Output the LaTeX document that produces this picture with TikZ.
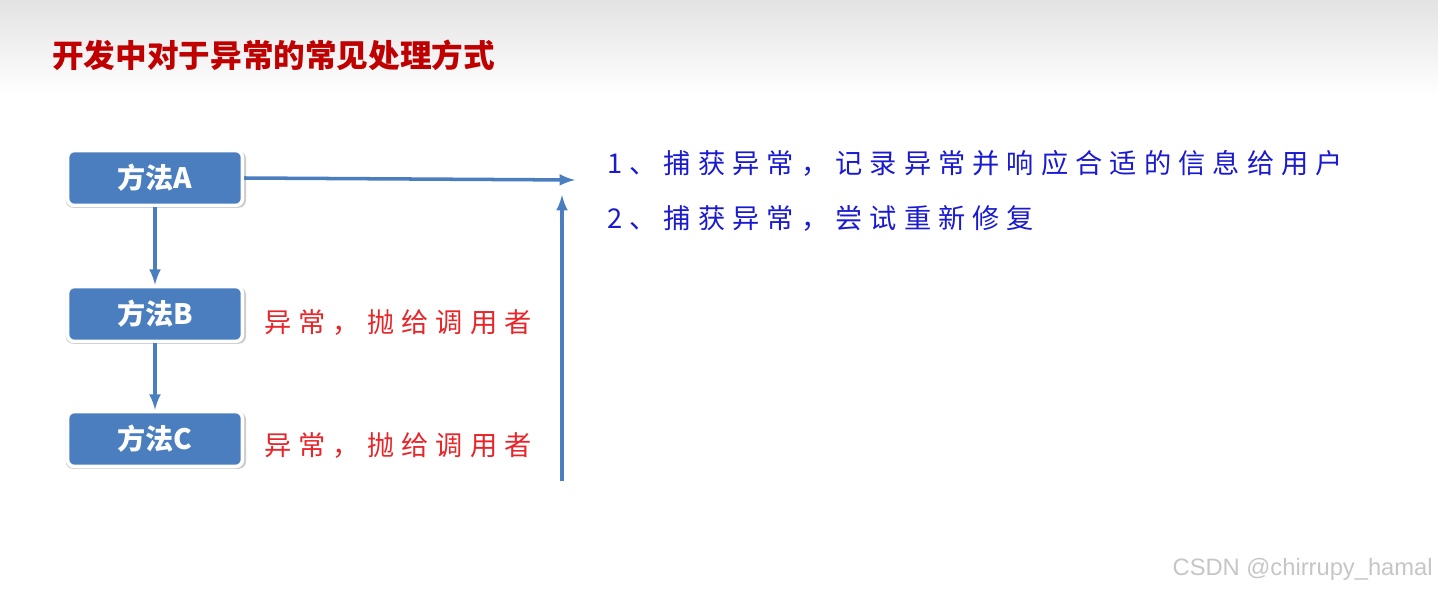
\documentclass[tikz,border=0pt]{standalone}
\usepackage{fontspec}
\usepackage{tikz}
\usetikzlibrary{arrows,shadows,positioning}
\newfontfamily\cjk{Noto Sans CJK SC}
\newfontfamily\cjkhand[LetterSpace=26]{Noto Sans CJK SC}
\setsansfont{Liberation Sans}
\definecolor{boxblue}{HTML}{4A7EBF}
\definecolor{titlered}{HTML}{C00000}
\definecolor{notered}{HTML}{E8262A}
\definecolor{noteblue}{HTML}{1A1AD0}
\tikzstyle{method}=[rounded corners=4pt,minimum width=3.5cm,minimum height=1.1cm,draw=white,line width=2pt,fill=boxblue,text=white,font=\cjk\bfseries\fontsize{16}{18}\selectfont,drop shadow={opacity=.4,shadow xshift=.5pt,shadow yshift=-.8pt,shadow scale=1.03}]
\tikzstyle{note}=[anchor=west,inner sep=0pt,font=\cjkhand\fontsize{15.5}{18}\selectfont]
\tikzstyle{line}=[line width=2pt,draw=boxblue]
\tikzstyle{arrow}=[->,line]
\tikzset{>=latex}

\begin{document}
\begin{tikzpicture}[x=0.02cm,y=-0.02cm]

    \useasboundingbox (0,0) rectangle (1438,594);
    \fill[white] (0,0) rectangle (1438,594);
    \shade[top color=gray!22,bottom color=white] (0,0) rectangle (1438,95);

    \node[anchor=west,inner sep=0pt,text=titlered,font=\cjk\bfseries\fontsize{18}{20}\selectfont] (title) at (52,55) {开发中对于异常的常见处理方式};

    \node[method] (methoda) at (155,178) {方法A};
    \node[method] (methodb) at (155,314) {方法B};
    \node[method] (methodc) at (155,439) {方法C};

    \node[note,text=notered] (throwb) at (264,323) {异常，抛给调用者};
    \node[note,text=notered] (throwc) at (264,446) {异常，抛给调用者};

    \node[note,text=noteblue] (wayone) at (607,163) {1、捕获异常，记录异常并响应合适的信息给用户};
    \node[note,text=noteblue] (waytwo) at (607,218) {2、捕获异常，尝试重新修复};

    \node[anchor=east,inner sep=0pt,text=gray!45,font=\sffamily\fontsize{13.5}{15}\selectfont] (mark) at (1433,569) {CSDN @chirrupy\_hamal};

    \coordinate (tipa) at (575,180);
    \coordinate (upfoot) at (562,481);
    \coordinate (uphead) at (562,195);

    \draw[arrow] (methoda) -- (methodb) ;
    \draw[arrow] (methodb) -- (methodc) ;
    \draw[arrow] (methoda.east) -- (tipa) ;
    \draw[arrow] (upfoot) -- (uphead) ;
  \end{tikzpicture}
\end{document}
